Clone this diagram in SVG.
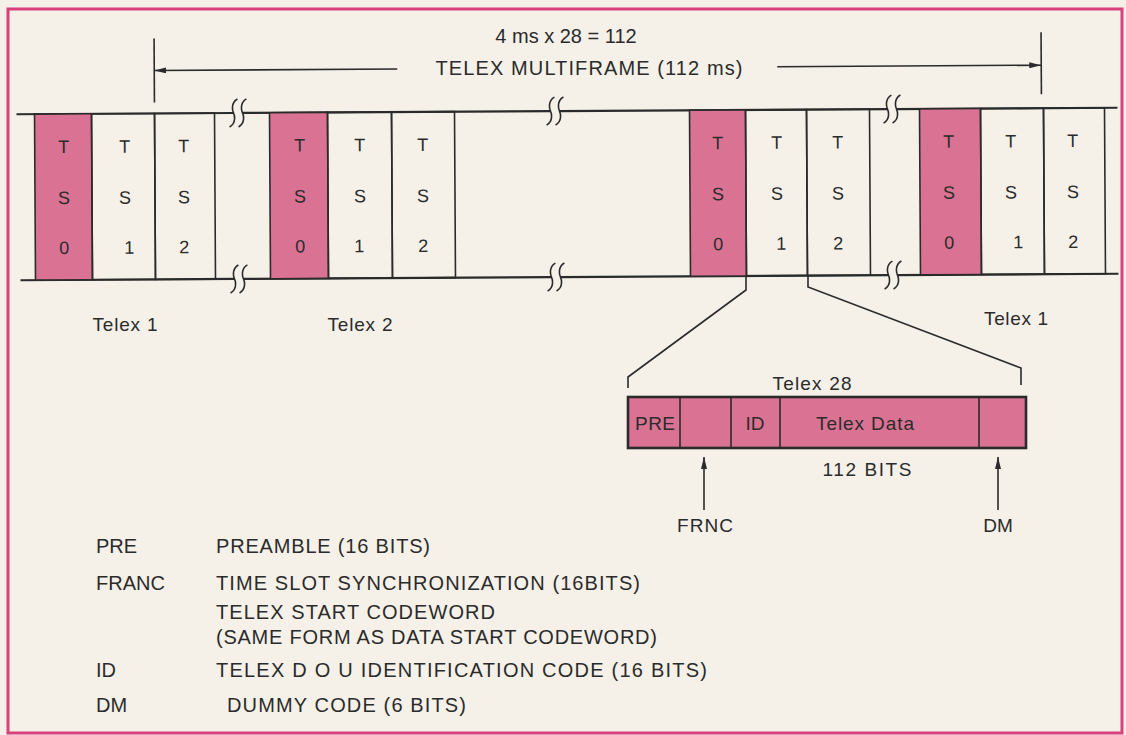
<svg xmlns="http://www.w3.org/2000/svg" width="1126" height="735" viewBox="0 0 1126 735">
<defs>
<style>
text{font-family:"Liberation Sans",Arial,sans-serif;fill:#2b2b2b}
.c{font-size:18px;text-anchor:middle}
.m{text-anchor:middle}
.ln{stroke:#2b2b2b;stroke-width:1.6;fill:none}
.rail{stroke:#2b2b2b;stroke-width:2.2;fill:none}
.pk{fill:#da7393;stroke:#2b2b2b;stroke-width:1.6}
.wc{fill:none;stroke:#2b2b2b;stroke-width:1.6}
.t19{font-size:19px}
.lg{font-size:20px}
</style>
<marker id="ah" viewBox="0 0 12 6" refX="12" refY="3" markerWidth="12" markerHeight="6" orient="auto" markerUnits="userSpaceOnUse"><path d="M0,0 L12,3 L0,6 z" fill="#2b2b2b"/></marker>
<path id="bm" d="M4,-14 C-3,-10 -1,-2 0,0 C1,2 3,10 -4,14" fill="none" stroke="#2b2b2b" stroke-width="1.6"/>
</defs>
<rect x="0" y="0" width="1126" height="735" fill="#f5f1e8"/>
<rect x="8" y="9" width="1114" height="724" fill="none" stroke="#d8407e" stroke-width="3"/>

<g id="title">
<text class="m" x="566" y="43" font-size="20">4 ms x 28 = 112</text>
<text class="m" x="589" y="75" font-size="20" textLength="307" lengthAdjust="spacing">TELEX MULTIFRAME (112 ms)</text>
</g>

<g transform="rotate(-0.34 567 195)">
<g id="rails">
<path class="rail" d="M17,111 H234 M243,111 H551 M560,111 H888 M897,111 H1118"/>
<path class="rail" d="M20,277 H234 M243,277 H551 M560,277 H888 M897,277 H1118"/>
<use href="#bm" x="234" y="111"/><use href="#bm" x="243" y="111"/>
<use href="#bm" x="234" y="277"/><use href="#bm" x="243" y="277"/>
<use href="#bm" x="551" y="111"/><use href="#bm" x="560" y="111"/>
<use href="#bm" x="551" y="277"/><use href="#bm" x="560" y="277"/>
<use href="#bm" x="888" y="111"/><use href="#bm" x="897" y="111"/>
<use href="#bm" x="888" y="277"/><use href="#bm" x="897" y="277"/>
</g>

<g id="g1-ts0"><rect class="pk" x="35" y="111" width="57" height="166"/><text class="c" x="64" y="150">T</text><text class="c" x="64" y="201">S</text><text class="c" x="64" y="251">0</text></g>
<g id="g1-ts1"><rect class="wc" x="92" y="111" width="63" height="166"/><text class="c" x="125" y="150">T</text><text class="c" x="125" y="201">S</text><text class="c" x="129" y="251">1</text></g>
<g id="g1-ts2"><rect class="wc" x="155" y="111" width="60" height="166"/><text class="c" x="184" y="150">T</text><text class="c" x="184" y="201">S</text><text class="c" x="184" y="251">2</text></g>

<g id="g2-ts0"><rect class="pk" x="270" y="111" width="58" height="166"/><text class="c" x="300" y="150">T</text><text class="c" x="300" y="201">S</text><text class="c" x="300" y="251">0</text></g>
<g id="g2-ts1"><rect class="wc" x="328" y="111" width="64" height="166"/><text class="c" x="360" y="150">T</text><text class="c" x="360" y="201">S</text><text class="c" x="359" y="251">1</text></g>
<g id="g2-ts2"><rect class="wc" x="392" y="111" width="63" height="166"/><text class="c" x="423" y="150">T</text><text class="c" x="423" y="201">S</text><text class="c" x="423" y="251">2</text></g>

<g id="g3-ts0"><rect class="pk" x="690" y="111" width="56" height="166"/><text class="c" x="718" y="150">T</text><text class="c" x="718" y="201">S</text><text class="c" x="718" y="251">0</text></g>
<g id="g3-ts1"><rect class="wc" x="746" y="111" width="61" height="166"/><text class="c" x="777" y="150">T</text><text class="c" x="777" y="201">S</text><text class="c" x="781" y="251">1</text></g>
<g id="g3-ts2"><rect class="wc" x="807" y="111" width="63" height="166"/><text class="c" x="838" y="150">T</text><text class="c" x="838" y="201">S</text><text class="c" x="838" y="251">2</text></g>

<g id="g4-ts0"><rect class="pk" x="920" y="111" width="61" height="166"/><text class="c" x="949" y="150">T</text><text class="c" x="949" y="201">S</text><text class="c" x="949" y="251">0</text></g>
<g id="g4-ts1"><rect class="wc" x="981" y="111" width="63" height="166"/><text class="c" x="1011" y="150">T</text><text class="c" x="1011" y="201">S</text><text class="c" x="1018" y="251">1</text></g>
<g id="g4-ts2"><rect class="wc" x="1044" y="111" width="61" height="166"/><text class="c" x="1073" y="150">T</text><text class="c" x="1073" y="201">S</text><text class="c" x="1073" y="251">2</text></g>

<g id="span-arrows">
<line class="ln" x1="155" y1="36" x2="155" y2="100"/>
<line class="ln" x1="1042" y1="35" x2="1042" y2="97"/>
<line class="ln" x1="398" y1="68" x2="155" y2="68" marker-end="url(#ah)"/>
<line class="ln" x1="778" y1="68" x2="1042" y2="68" marker-end="url(#ah)"/>
</g>
</g>

<g id="labels" class="t19">
<text x="125" y="331" class="m" textLength="65" lengthAdjust="spacing">Telex 1</text>
<text x="360" y="331" class="m" textLength="65" lengthAdjust="spacing">Telex 2</text>
<text x="1016" y="325" class="m" textLength="64" lengthAdjust="spacing">Telex 1</text>
</g>

<g id="connectors">
<path class="ln" d="M746,277 L746,290 L628,377 L628,388"/>
<path class="ln" d="M808,275 L808,287 L1021,368 L1021,385"/>
<line class="ln" x1="704" y1="510" x2="704" y2="457" marker-end="url(#ah)"/>
<line class="ln" x1="998" y1="510" x2="998" y2="457" marker-end="url(#ah)"/>
</g>

<g id="telex28">
<text x="812" y="390" class="m t19" textLength="79" lengthAdjust="spacing">Telex 28</text>
<rect x="628" y="397" width="398" height="51" fill="#da7393" stroke="#2b2b2b" stroke-width="2.6"/>
<path class="ln" d="M680,397 V448 M731,397 V448 M780,397 V448 M979,397 V448"/>
<text x="655" y="430" class="m t19" textLength="40" lengthAdjust="spacing">PRE</text>
<text x="755" y="430" class="m t19">ID</text>
<text x="865" y="430" class="m t19" textLength="98" lengthAdjust="spacing">Telex Data</text>
<text x="867" y="476" class="m t19" textLength="89" lengthAdjust="spacing">112 BITS</text>
</g>

<g id="pointer-labels" class="t19">
<text x="705" y="532" class="m" textLength="56" lengthAdjust="spacing">FRNC</text>
<text x="998" y="532" class="m">DM</text>
</g>

<g id="legend" class="lg">
<text x="96" y="553">PRE</text>
<text x="216" y="553" textLength="214" lengthAdjust="spacing">PREAMBLE (16 BITS)</text>
<text x="96" y="590">FRANC</text>
<text x="216" y="590" textLength="424" lengthAdjust="spacing">TIME SLOT SYNCHRONIZATION (16BITS)</text>
<text x="216" y="619" textLength="279" lengthAdjust="spacing">TELEX START CODEWORD</text>
<text x="216" y="644" textLength="441" lengthAdjust="spacing">(SAME FORM AS DATA START CODEWORD)</text>
<text x="96" y="677">ID</text>
<text x="216" y="677" textLength="491" lengthAdjust="spacing">TELEX D O U  IDENTIFICATION CODE (16 BITS)</text>
<text x="96" y="712">DM</text>
<text x="227" y="712" textLength="239" lengthAdjust="spacing">DUMMY  CODE (6 BITS)</text>
</g>
</svg>
